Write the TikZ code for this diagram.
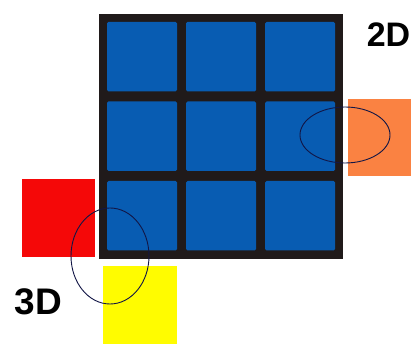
\documentclass[tikz,border=0pt]{standalone}
\usepackage{fontspec}
\setmainfont{Liberation Sans}
\usetikzlibrary{positioning}
\definecolor{CubeBlue}{RGB}{8,92,178}
\definecolor{CubeFrame}{RGB}{32,26,26}
\definecolor{CubeOrange}{RGB}{250,130,66}
\definecolor{CubeRed}{RGB}{245,8,8}
\definecolor{CubeYellow}{RGB}{255,252,0}
\definecolor{LoopNavy}{RGB}{18,22,70}

\begin{document}
\begin{tikzpicture}[x=1pt,y=-1pt,
    facelet/.style={fill=CubeBlue,rounded corners=1.5pt},
    loop/.style={draw=LoopNavy,line width=0.9pt},
    dimlabel/.style={font=\bfseries\fontsize{34}{34}\selectfont,inner sep=0pt}]
      \useasboundingbox (0,0) rectangle (417,344);
      \fill[white] (0,0) rectangle (417,344);
      % frame and the nine facelets
      \fill[CubeFrame] (99,14) rectangle (343,259);
      \foreach \i in {0,1,2}
        \foreach \j in {0,1,2}
          \fill[facelet] (107+79*\i,22+79.5*\j) rectangle ++(70,69.5);
      % neighbouring stickers
      \fill[CubeOrange] (348,99) rectangle (411,176);
      \fill[CubeRed] (22,179) rectangle (95,257);
      \fill[CubeYellow] (103,266) rectangle (177,344);
      % loops
      \draw[loop] (345,135) ellipse [x radius=45,y radius=28];
      \draw[loop] (110,256) ellipse [x radius=39,y radius=48];
      \node[dimlabel] (twoD) at (388.5,35) {2D};
      \node[dimlabel,font=\bfseries\fontsize{37}{37}\selectfont] (threeD) at (38.5,301.5) {3D};
    \end{tikzpicture}
\end{document}
